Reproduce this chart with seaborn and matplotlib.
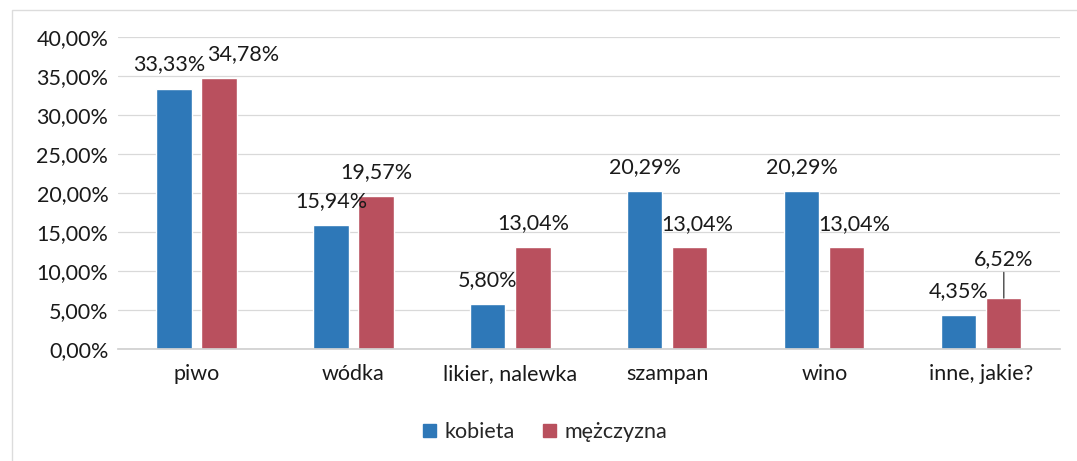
import matplotlib.pyplot as plt
import matplotlib.patches as mpatches
import pandas as pd
import seaborn as sns

categories = ['piwo', 'wódka', 'likier, nalewka', 'szampan', 'wino', 'inne, jakie?']
kobieta = [33.33, 15.94, 5.80, 20.29, 20.29, 4.35]
mezczyzna = [34.78, 19.57, 13.04, 13.04, 13.04, 6.52]
series = ['kobieta', 'mężczyzna']

df = pd.DataFrame({
    'kategoria': categories * 2,
    'procent': kobieta + mezczyzna,
    'plec': [series[0]] * len(categories) + [series[1]] * len(categories),
})

sns.set_theme(style='white')
plt.rcParams['font.family'] = ['Lato', 'DejaVu Sans']
fs = 15.5

fig = plt.figure(figsize=(10.77, 4.61), dpi=100)
ax = fig.add_axes([0.1096, 0.243, 0.8744, 0.677])

sns.barplot(data=df, x='kategoria', y='procent', hue='plec', order=categories,
            hue_order=series, palette=['#2E78B8', '#B9505E'],
            width=0.574, gap=0.22, saturation=1, ax=ax)

ax.set_ylim(0, 40)
ax.set_yticks(range(0, 41, 5))
ax.set_yticklabels([f'{v:.2f}%'.replace('.', ',') for v in range(0, 41, 5)])
ax.yaxis.grid(True, color='#d9d9d9', lw=0.9)
ax.set_axisbelow(True)
for s in ['left', 'right', 'top']:
    ax.spines[s].set_visible(False)
ax.spines['bottom'].set_color('#d0d0d0')
ax.tick_params(axis='both', length=0, labelsize=fs, colors='#1a1a1a')
ax.tick_params(axis='x', pad=11)
ax.tick_params(axis='y', pad=7)
ax.set_xlabel('')
ax.set_ylabel('')

# label offsets in pixels (x shift, height above bar top)
offsets = {
    ('mężczyzna', 'piwo'): (24, 24),
    ('kobieta', 'piwo'): (-5, 25),
    ('mężczyzna', 'szampan'): (7, 23),
    ('mężczyzna', 'wino'): (7, 23),
    ('mężczyzna', 'inne, jakie?'): (0, 39),
}
for name, cont, vals in zip(series, ax.containers, [kobieta, mezczyzna]):
    for bar, cat, v in zip(cont, categories, vals):
        dx, dy = offsets.get((name, cat), (0, 24))
        txt = f'{v:.2f}%'.replace('.', ',')
        kw = {}
        if (name, cat) == ('mężczyzna', 'inne, jakie?'):
            kw['arrowprops'] = dict(arrowstyle='-', color='#333333', lw=0.9,
                                    shrinkA=0, shrinkB=0, relpos=(0.5, 0))
        ax.annotate(txt, (bar.get_x() + bar.get_width() / 2, bar.get_height()),
                    xytext=(dx, dy), textcoords='offset pixels',
                    ha='center', va='center', fontsize=fs, color='#1a1a1a', **kw)

handles = [mpatches.Patch(color=c) for c in ['#2E78B8', '#B9505E']]
ax.get_legend().remove()
fig.legend(handles, series, loc='center', bbox_to_anchor=(0.506, 0.063), ncol=2,
           frameon=False, fontsize=fs, handlelength=0.6, handleheight=0.6,
           handletextpad=0.4, columnspacing=1.3)

fig.patches.append(mpatches.Rectangle((12 / 1077, -0.1), 1.2, (461 - 10) / 461 + 0.1,
                                      transform=fig.transFigure, fill=False,
                                      edgecolor='#dcdcdc', lw=1))

fig.savefig('out.png', dpi=100)
